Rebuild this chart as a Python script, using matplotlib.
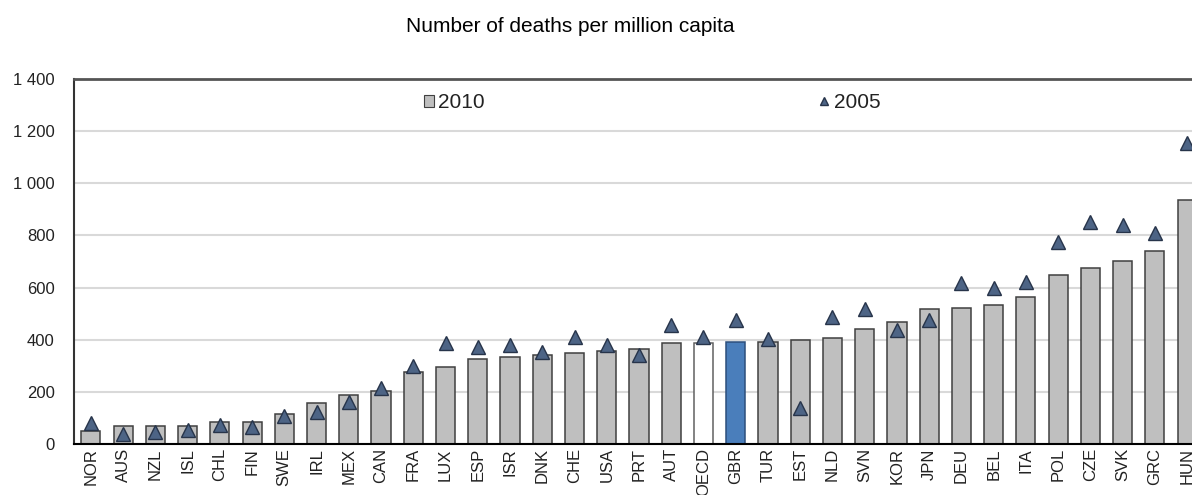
import matplotlib
matplotlib.use("Agg")
import matplotlib.pyplot as plt
from matplotlib.lines import Line2D
from matplotlib.patches import Patch
from matplotlib.ticker import FuncFormatter

plt.rcParams['font.family'] = ['Liberation Sans Narrow', 'Liberation Sans', 'DejaVu Sans']

# Data
countries = ["NOR", "AUS", "NZL", "ISL", "CHL", "FIN", "SWE", "IRL", "MEX", "CAN",
             "FRA", "LUX", "ESP", "ISR", "DNK", "CHE", "USA", "PRT", "AUT", "OECD",
             "GBR", "TUR", "EST", "NLD", "SVN", "KOR", "JPN", "DEU", "BEL", "ITA",
             "POL", "CZE", "SVK", "GRC", "HUN"]
deaths_2010 = [51, 70, 70, 70, 86, 84, 115, 156, 188, 205,
               277, 294, 325, 332, 341, 350, 356, 363, 386, 386,
               392, 392, 399, 405, 440, 469, 517, 520, 532, 565,
               648, 674, 703, 741, 936]
deaths_2005 = [79, 38, 47, 55, 73, 66, 107, 124, 162, 213,
               299, 389, 371, 380, 353, 412, 378, 341, 456, 412,
               476, 402, 137, 488, 517, 437, 476, 616, 600, 623,
               776, 853, 840, 810, 1156]

bar_grey = "#bfbfbf"
bar_edge = "#404040"
tri_fill = "#4d6485"
tri_edge = "#27344a"

fig = plt.figure(figsize=(11.92, 4.95), dpi=100)
ax = fig.add_axes([74 / 1192, 51 / 495, 1130 / 1192, 365 / 495])

x = list(range(len(countries)))
face = []
edge = []
for c in countries:
    if c == "OECD":
        face.append("white"); edge.append("#606060")
    elif c == "GBR":
        face.append("#4a7ebb"); edge.append("#2c4f7c")
    else:
        face.append(bar_grey); edge.append(bar_edge)

ax.bar(x, deaths_2010, width=0.59, color=face, edgecolor=edge, linewidth=1.1, zorder=2)
ax.plot(x, deaths_2005, linestyle="none", marker="^", markersize=10,
        markerfacecolor=tri_fill, markeredgecolor=tri_edge, markeredgewidth=1.0, zorder=3)

ax.set_xlim(-0.52, len(countries) - 0.48)
ax.set_ylim(0, 1400)
ax.set_yticks(range(0, 1401, 200))
ax.yaxis.set_major_formatter(FuncFormatter(lambda v, p: f"{int(v):,}".replace(",", " ")))
ax.set_xticks(x)
ax.set_xticklabels(countries, rotation=90)
ax.tick_params(axis="y", length=0, pad=14, labelsize=12, labelcolor="#222222")
ax.tick_params(axis="x", length=0, pad=3, labelsize=12, labelcolor="#222222")

ax.yaxis.grid(True, color="#d9d9d9", linewidth=1.5, zorder=0)
ax.set_axisbelow(True)
ax.spines["left"].set_color("#333333")
ax.spines["left"].set_linewidth(1.5)
ax.spines["top"].set_color("#555555")
ax.spines["top"].set_linewidth(2)
ax.spines["bottom"].set_color("black")
ax.spines["bottom"].set_linewidth(1.5)
ax.spines["right"].set_visible(False)

# legend entries, spread apart like the original
h1 = Patch(facecolor=bar_grey, edgecolor=bar_edge, linewidth=0.8)
h2 = Line2D([], [], linestyle="none", marker="^", markersize=6,
            markerfacecolor=tri_fill, markeredgecolor=tri_edge)
leg1 = fig.legend([h1], ["2010"], loc="center left", bbox_to_anchor=(424 / 1192, 1 - 103 / 495),
                  frameon=False, fontsize=15, handlelength=0.5, handleheight=0.5,
                  handletextpad=0.15, borderpad=0, borderaxespad=0)
leg2 = fig.legend([h2], ["2005"], loc="center left", bbox_to_anchor=(818 / 1192, 1 - 103 / 495),
                  frameon=False, fontsize=15, handlelength=0.6,
                  handletextpad=0.15, borderpad=0, borderaxespad=0)
for t in leg1.get_texts() + leg2.get_texts():
    t.set_color("#222222")

fig.text(570 / 1192, 1 - 27 / 495, "Number of deaths per million capita",
         ha="center", va="center", fontsize=15, family=["Liberation Sans", "DejaVu Sans"])

fig.savefig("out.png", dpi=100)
